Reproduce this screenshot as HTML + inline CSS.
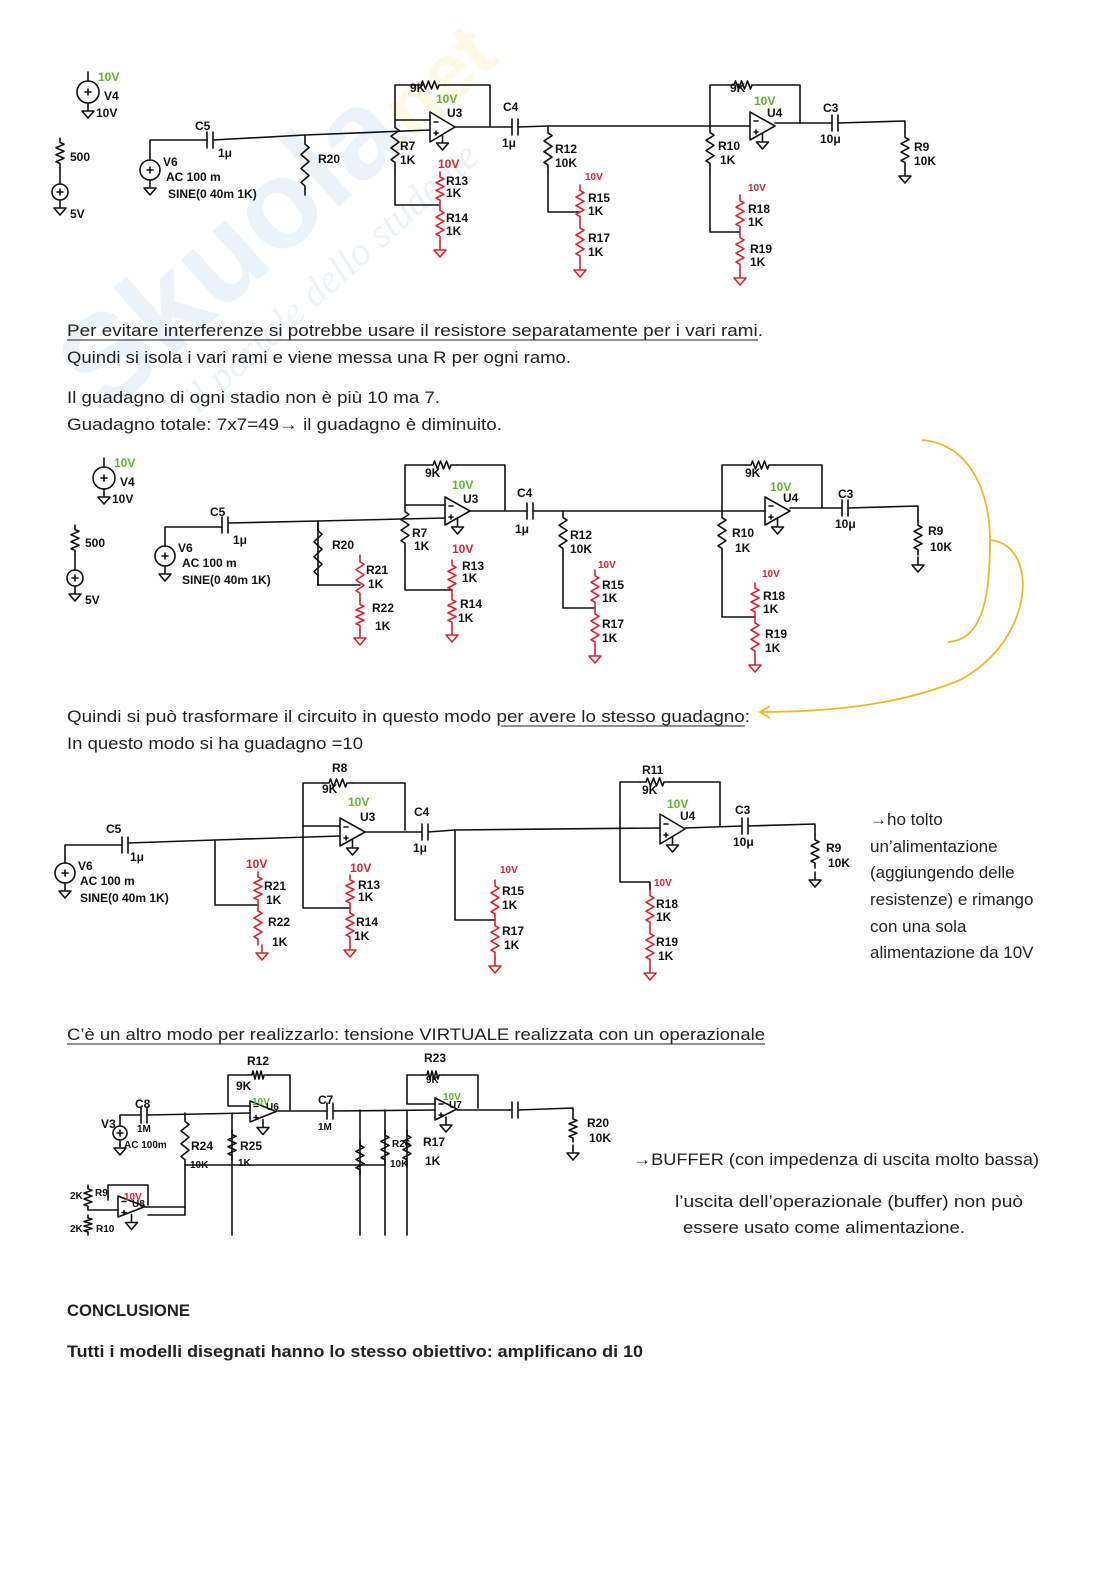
<!DOCTYPE html>
<html><head><meta charset="utf-8"><style>
html,body{margin:0;padding:0;background:#fff}
svg{display:block}
.t{font-family:"Liberation Sans",sans-serif;font-size:17px;fill:#222}
.b{font-weight:bold}
.h{font-family:"Liberation Sans",sans-serif;font-size:12px;fill:#111;font-weight:bold}
.hs{font-family:"Liberation Sans",sans-serif;font-size:10px;fill:#111;font-weight:bold}
.g{fill:#5db82a}.r{fill:#e0202a}
</style></head><body>
<svg id="s" width="1116" height="1579" viewBox="0 0 1116 1579" xmlns="http://www.w3.org/2000/svg">
<g opacity="0.12" transform="rotate(-42 220 260)">
<text x="30" y="300" font-family="Liberation Sans" font-weight="bold" font-size="125" fill="#5aa0d8">Skuola</text>
<text x="420" y="300" font-family="Liberation Sans" font-weight="bold" font-size="80" fill="#e8d830">.net</text>
<text x="100" y="360" font-family="Liberation Serif" font-style="italic" font-size="40" fill="#5aa0d8">il portale dello studente</text>
</g>
<g id="w" fill="none" stroke="#111" stroke-width="1.6" stroke-linecap="round" stroke-linejoin="round"></g>
<g id="rd" fill="none" stroke="#e0202a" stroke-width="1.6" stroke-linecap="round" stroke-linejoin="round"></g>
<path d="M922 440 C975 445 990 500 990 540 C990 590 985 640 948 642 M990 540 C1040 545 1035 640 960 680 C900 705 830 712 760 712 M770 706 L760 712 L770 718" fill="none" stroke="#f0b820" stroke-width="1.8"/>
<text class="h g" x="98" y="81">10V</text><text class="h" x="104" y="100" font-size="15">V4</text><text class="h" x="96" y="117">10V</text>
<text class="h" x="70" y="161" font-size="14">500</text><text class="h" x="70" y="218" font-size="14">5V</text>
<text class="h" x="163" y="166">V6</text><text class="h" x="166" y="181">AC 100 m</text><text class="h" x="168" y="198">SINE(0 40m 1K)</text>
<text class="h" x="195" y="130" font-size="15">C5</text><text class="h" x="218" y="157">1μ</text>
<text class="h" x="318" y="163" font-size="14">R20</text>
<text class="h" x="410" y="92">9K</text><text class="h g" x="436" y="103">10V</text><text class="h" x="447" y="117">U3</text>
<text class="h" x="400" y="150">R7</text><text class="h" x="400" y="164">1K</text>
<text class="h r" x="438" y="168" font-size="13">10V</text>
<text class="h" x="446" y="185">R13</text><text class="h" x="446" y="197">1K</text><text class="h" x="446" y="222">R14</text><text class="h" x="446" y="235">1K</text>
<text class="h" x="503" y="111" font-size="14">C4</text><text class="h" x="502" y="147">1μ</text>
<text class="h" x="555" y="153">R12</text><text class="h" x="555" y="167">10K</text>
<text class="hs r" x="585" y="180">10V</text>
<text class="h" x="588" y="202">R15</text><text class="h" x="588" y="215">1K</text><text class="h" x="588" y="242">R17</text><text class="h" x="588" y="256">1K</text>
<text class="h" x="730" y="92">9K</text><text class="h g" x="754" y="105">10V</text><text class="h" x="767" y="117">U4</text>
<text class="h" x="718" y="150">R10</text><text class="h" x="720" y="164">1K</text>
<text class="hs r" x="748" y="191">10V</text>
<text class="h" x="748" y="213">R18</text><text class="h" x="748" y="226">1K</text><text class="h" x="750" y="253">R19</text><text class="h" x="750" y="266">1K</text>
<text class="h" x="823" y="112" font-size="14">C3</text><text class="h" x="820" y="143">10μ</text>
<text class="h" x="914" y="151" font-size="14">R9</text><text class="h" x="914" y="165" font-size="14">10K</text>
<text class="t" x="67" y="336" textLength="696" lengthAdjust="spacingAndGlyphs">Per evitare interferenze si potrebbe usare il resistore separatamente per i vari rami.</text>
<line x1="67" y1="340" x2="758" y2="340" stroke="#222" stroke-width="1"/>
<text class="t" x="67" y="363" textLength="504" lengthAdjust="spacingAndGlyphs">Quindi si isola i vari rami e viene messa una R per ogni ramo.</text>
<text class="t" x="67" y="403" textLength="373" lengthAdjust="spacingAndGlyphs">Il guadagno di ogni stadio non è più 10 ma 7.</text>
<text class="t" x="67" y="430" textLength="435" lengthAdjust="spacingAndGlyphs">Guadagno totale: 7x7=49→ il guadagno è diminuito.</text>
<text class="h g" x="114" y="467">10V</text><text class="h" x="120" y="486" font-size="15">V4</text><text class="h" x="112" y="503">10V</text>
<text class="h" x="85" y="547" font-size="14">500</text><text class="h" x="85" y="604" font-size="14">5V</text>
<text class="h" x="178" y="552">V6</text><text class="h" x="182" y="567">AC 100 m</text><text class="h" x="182" y="584">SINE(0 40m 1K)</text>
<text class="h" x="210" y="516" font-size="15">C5</text><text class="h" x="233" y="544">1μ</text>
<text class="h" x="332" y="549" font-size="14">R20</text>
<text class="h" x="366" y="574">R21</text><text class="h" x="368" y="588">1K</text><text class="h" x="372" y="612">R22</text><text class="h" x="375" y="630">1K</text>
<text class="h" x="425" y="477">9K</text><text class="h g" x="452" y="489">10V</text><text class="h" x="463" y="503">U3</text>
<text class="h" x="412" y="537">R7</text><text class="h" x="414" y="550">1K</text>
<text class="h r" x="452" y="553" font-size="13">10V</text>
<text class="h" x="462" y="570">R13</text><text class="h" x="462" y="582">1K</text><text class="h" x="460" y="608">R14</text><text class="h" x="458" y="622">1K</text>
<text class="h" x="517" y="497" font-size="14">C4</text><text class="h" x="515" y="533">1μ</text>
<text class="h" x="570" y="539">R12</text><text class="h" x="570" y="553">10K</text>
<text class="hs r" x="598" y="568">10V</text>
<text class="h" x="602" y="589">R15</text><text class="h" x="602" y="602">1K</text><text class="h" x="602" y="628">R17</text><text class="h" x="602" y="642">1K</text>
<text class="h" x="745" y="477">9K</text><text class="h g" x="770" y="491">10V</text><text class="h" x="783" y="502">U4</text>
<text class="h" x="732" y="537">R10</text><text class="h" x="735" y="552">1K</text>
<text class="hs r" x="762" y="577">10V</text>
<text class="h" x="763" y="600">R18</text><text class="h" x="763" y="613">1K</text><text class="h" x="765" y="638">R19</text><text class="h" x="765" y="652">1K</text>
<text class="h" x="838" y="498" font-size="14">C3</text><text class="h" x="835" y="528">10μ</text>
<text class="h" x="928" y="535" font-size="14">R9</text><text class="h" x="930" y="551" font-size="14">10K</text>
<text class="t" x="67" y="722" textLength="683" lengthAdjust="spacingAndGlyphs">Quindi si può trasformare il circuito in questo modo per avere lo stesso guadagno:</text>
<line x1="501" y1="726" x2="745" y2="726" stroke="#222" stroke-width="1"/>
<text class="t" x="67" y="749" textLength="296" lengthAdjust="spacingAndGlyphs">In questo modo si ha guadagno =10</text>
<text class="h" x="78" y="870">V6</text><text class="h" x="80" y="885">AC 100 m</text><text class="h" x="80" y="902">SINE(0 40m 1K)</text>
<text class="h" x="106" y="833" font-size="15">C5</text><text class="h" x="130" y="861">1μ</text>
<text class="h" x="332" y="772">R8</text><text class="h" x="322" y="793">9K</text><text class="h g" x="348" y="806">10V</text><text class="h" x="360" y="821">U3</text>
<text class="h r" x="246" y="868" font-size="13">10V</text>
<text class="h" x="264" y="890">R21</text><text class="h" x="266" y="904">1K</text><text class="h" x="268" y="926">R22</text><text class="h" x="272" y="946">1K</text>
<text class="h r" x="350" y="872" font-size="13">10V</text>
<text class="h" x="358" y="889">R13</text><text class="h" x="358" y="901">1K</text><text class="h" x="356" y="926">R14</text><text class="h" x="354" y="940">1K</text>
<text class="h" x="414" y="816" font-size="14">C4</text><text class="h" x="413" y="852">1μ</text>
<text class="hs r" x="500" y="873">10V</text>
<text class="h" x="502" y="895">R15</text><text class="h" x="502" y="909">1K</text><text class="h" x="502" y="935">R17</text><text class="h" x="504" y="949">1K</text>
<text class="h" x="642" y="774">R11</text><text class="h" x="642" y="794">9K</text><text class="h g" x="667" y="808">10V</text><text class="h" x="680" y="820">U4</text>
<text class="hs r" x="654" y="886">10V</text>
<text class="h" x="656" y="908">R18</text><text class="h" x="656" y="921">1K</text><text class="h" x="656" y="946">R19</text><text class="h" x="658" y="960">1K</text>
<text class="h" x="735" y="814" font-size="14">C3</text><text class="h" x="733" y="846">10μ</text>
<text class="h" x="826" y="852" font-size="14">R9</text><text class="h" x="828" y="867" font-size="14">10K</text>
<text class="t" x="870" y="825">→ho tolto</text>
<text class="t" x="870" y="852">un’alimentazione</text>
<text class="t" x="870" y="878">(aggiungendo delle</text>
<text class="t" x="870" y="905">resistenze) e rimango</text>
<text class="t" x="870" y="932">con una sola</text>
<text class="t" x="870" y="958">alimentazione da 10V</text>
<text class="t" x="67" y="1040" textLength="698" lengthAdjust="spacingAndGlyphs">C’è un altro modo per realizzarlo: tensione VIRTUALE realizzata con un operazionale</text>
<line x1="67" y1="1044" x2="765" y2="1044" stroke="#222" stroke-width="1"/>
<text class="h" x="247" y="1065">R12</text><text class="h" x="236" y="1090" font-size="10">9K</text><text class="hs g" x="252" y="1105">10V</text><text class="hs" x="266" y="1110">U6</text>
<text class="h" x="135" y="1108">C8</text><text class="hs" x="137" y="1132">1M</text><text class="h" x="101" y="1128">V3</text><text class="hs" x="124" y="1148">AC 100m</text>
<text class="h" x="191" y="1150">R24</text><text class="hs" x="190" y="1168">10K</text><text class="h" x="240" y="1150">R25</text><text class="hs" x="238" y="1166">1K</text>
<text class="h" x="318" y="1104">C7</text><text class="hs" x="318" y="1130">1M</text>
<text class="h" x="424" y="1062">R23</text><text class="hs" x="426" y="1083">9K</text><text class="hs g" x="443" y="1100">10V</text><text class="hs" x="449" y="1108">U7</text>
<text class="hs" x="392" y="1147">R26</text><text class="h" x="423" y="1146">R17</text><text class="hs" x="390" y="1167">10K</text><text class="h" x="425" y="1165">1K</text>
<text class="h" x="587" y="1127">R20</text><text class="h" x="589" y="1142">10K</text>
<text class="hs" x="70" y="1199">2K</text><text class="hs" x="95" y="1196">R9</text><text class="hs r" x="124" y="1200">10V</text><text class="hs" x="132" y="1207">U8</text>
<text class="hs" x="70" y="1232">2K</text><text class="hs" x="96" y="1232">R10</text>
<text class="t" x="633" y="1165" textLength="406" lengthAdjust="spacingAndGlyphs">→BUFFER (con impedenza di uscita molto bassa)</text>
<text class="t" x="675" y="1207" textLength="348" lengthAdjust="spacingAndGlyphs">l’uscita dell’operazionale (buffer) non può</text>
<text class="t" x="683" y="1233" textLength="282" lengthAdjust="spacingAndGlyphs">essere usato come alimentazione.</text>
<text class="t b" x="67" y="1316" textLength="123" lengthAdjust="spacingAndGlyphs">CONCLUSIONE</text>
<text class="t b" x="67" y="1357" textLength="576" lengthAdjust="spacingAndGlyphs">Tutti i modelli disegnati hanno lo stesso obiettivo: amplificano di 10</text>
</svg>
<script>
var W=document.getElementById('w'),R=document.getElementById('rd'),NS='http://www.w3.org/2000/svg';
function P(d,g){var p=document.createElementNS(NS,'path');p.setAttribute('d',d);(g||W).appendChild(p);}
function L(pts,g){P('M'+pts.join(' L'),g);}
function rv(x,y1,y2,g){var n=6,h=(y2-y1),d='M'+x+' '+y1+' L'+x+' '+(y1+h*0.15);for(var i=0;i<n;i++){d+=' L'+(x+(i%2?-4:4))+' '+(y1+h*0.15+h*0.7*(i+0.5)/n);}d+=' L'+x+' '+(y1+h*0.85)+' L'+x+' '+y2;P(d,g);}
function rh(x1,x2,y){var w=x2-x1,d='M'+x1+' '+y+' L'+(x1+w*0.2)+' '+y;for(var i=0;i<6;i++){d+=' L'+(x1+w*0.2+w*0.6*(i+0.5)/6)+' '+(y+(i%2?4:-4));}d+=' L'+(x1+w*0.8)+' '+y+' L'+x2+' '+y;P(d);}
function gnd(x,y,g){P('M'+x+' '+y+' L'+x+' '+(y+8)+' M'+(x-6)+' '+(y+8)+' L'+(x+6)+' '+(y+8)+' L'+x+' '+(y+15)+' Z',g);}
function cap(x,y){P('M'+(x-3)+' '+(y-8)+' L'+(x-3)+' '+(y+8)+' M'+(x+3)+' '+(y-8)+' L'+(x+3)+' '+(y+8));}
function src(x,y,r){P('M'+(x+r)+' '+y+' A'+r+' '+r+' 0 1 0 '+(x-r)+' '+y+' A'+r+' '+r+' 0 1 0 '+(x+r)+' '+y+' M'+(x-3)+' '+y+' L'+(x+3)+' '+y+' M'+x+' '+(y-3)+' L'+x+' '+(y+3));}
function op(x,yt,yb,tx){var m=(yt+yb)/2;P('M'+x+' '+yt+' L'+x+' '+yb+' L'+tx+' '+m+' Z');P('M'+(x+4)+' '+(m-5)+' L'+(x+8)+' '+(m-5)+' M'+(x+4)+' '+(m+6)+' L'+(x+8)+' '+(m+6)+' M'+(x+6)+' '+(m+4)+' L'+(x+6)+' '+(m+8));gnd(x+(tx-x)*0.5,m+8);}
src(88,92,11);L([[88,81],[88,72]]);gnd(88,103);
rv(60,138,168);src(60,192,8);L([[60,168],[60,184]]);gnd(60,200);
src(150,170,10);L([[150,160],[150,140],[207,140]]);gnd(150,180);cap(210,140);L([[213,140],[305,135],[430,130]]);
rv(305,135,195);
op(430,112,142,455);
L([[430,120],[395,120],[395,85],[415,85]]);rh(415,445,85);L([[445,85],[490,85],[490,126]]);
rv(395,120,170);L([[395,170],[395,205],[440,205]]);
rv(440,172,205,R);rv(440,205,242,R);gnd(440,242,R);
L([[455,127],[512,127]]);cap(515,127);L([[518,127],[548,126],[710,126],[750,126]]);
rv(548,126,172);L([[548,172],[548,212],[580,212]]);
rv(580,185,222,R);rv(580,222,262,R);gnd(580,262,R);
op(750,112,140,775);
L([[710,126],[710,85],[728,85]]);rh(728,758,85);L([[758,85],[800,85],[800,123]]);
rv(710,126,170);L([[710,170],[710,232],[740,232]]);
rv(740,195,232,R);rv(740,232,270,R);gnd(740,270,R);
L([[775,123],[832,123]]);cap(835,123);L([[838,123],[905,121],[905,132]]);rv(905,132,168);gnd(905,168);
src(104,478,11);L([[104,467],[104,458]]);gnd(104,489);
rv(75,525,555);src(75,578,8);L([[75,555],[75,570]]);gnd(75,586);
src(165,556,10);L([[165,546],[165,527],[222,527]]);gnd(165,566);cap(225,525);L([[228,523],[318,521],[445,518]]);
rv(318,521,585);L([[318,585],[360,585]]);rv(360,555,600,R);rv(360,600,630,R);gnd(360,630,R);L([[318,521],[318,585]]);
op(445,497,525,470);
L([[445,505],[405,505],[405,465],[427,465]]);rh(427,457,465);L([[457,465],[505,465],[505,510]]);
rv(405,505,550);L([[405,550],[405,590],[452,590]]);
rv(452,560,595,R);rv(452,595,627,R);gnd(452,627,R);
L([[470,511],[527,511]]);cap(530,511);L([[533,511],[563,511],[765,511]]);
rv(563,511,555);L([[563,555],[563,608],[595,608]]);
rv(595,570,608,R);rv(595,608,648,R);gnd(595,648,R);
op(765,497,525,790);
L([[722,511],[722,465],[745,465]]);rh(745,775,465);L([[775,465],[822,465],[822,508]]);
rv(722,511,555);L([[722,555],[722,617],[755,617]]);
rv(755,583,617,R);rv(755,617,657,R);gnd(755,657,R);
L([[790,508],[842,508]]);cap(845,508);L([[848,508],[918,506],[918,520]]);rv(918,520,555);gnd(918,557);
src(65,873,10);L([[65,863],[65,845],[122,845]]);gnd(65,883);cap(125,845);L([[128,843],[215,840],[340,836]]);
L([[215,840],[215,905],[258,905]]);rv(258,872,905,R);rv(258,905,945,R);gnd(262,945,R);
op(340,818,846,365);
L([[340,826],[303,826],[303,783],[323,783]]);rh(323,353,783);L([[353,783],[405,783],[405,830]]);
L([[303,826],[303,908],[350,908]]);rv(350,875,908,R);rv(350,908,942,R);gnd(350,942,R);
L([[365,832],[422,832]]);cap(425,832);L([[428,832],[455,830],[660,828]]);
L([[455,830],[455,920],[495,920]]);rv(495,880,920,R);rv(495,920,958,R);gnd(495,958,R);
op(660,814,844,685);
L([[620,822],[620,782],[640,782]]);rh(640,670,782);L([[670,782],[720,782],[720,826]]);
L([[620,822],[620,882],[650,882],[650,890]]);rv(650,890,928,R);rv(650,928,965,R);gnd(650,965,R);
L([[685,828],[742,826]]);cap(745,826);L([[748,826],[815,824],[815,835]]);rv(815,835,868);gnd(815,872);
src(120,1133,7);L([[120,1126],[120,1115],[141,1115]]);gnd(120,1140);cap(144,1115);L([[147,1115],[250,1113]]);
rv(185,1113,1168);L([[185,1168],[185,1215],[148,1215]]);
L([[232,1113],[232,1235]]);rv(232,1130,1160);
op(250,1101,1122,276);
L([[250,1106],[228,1106],[228,1075],[248,1075]]);rh(248,268,1075);L([[268,1075],[290,1075],[290,1110]]);
L([[276,1111],[327,1111]]);cap(330,1111);L([[333,1111],[435,1110]]);
L([[360,1110],[360,1235]]);rv(360,1140,1175);
L([[385,1110],[385,1235]]);rv(385,1130,1165);
L([[385,1165],[185,1165]]);
L([[407,1110],[407,1235]]);rv(407,1130,1165);
op(435,1098,1120,457);
L([[435,1104],[407,1104],[407,1075],[423,1075]]);rh(423,443,1075);L([[443,1075],[478,1075],[478,1108]]);
L([[457,1110],[512,1110]]);cap(515,1110);L([[518,1110],[573,1108],[573,1115]]);rv(573,1115,1142);gnd(573,1145);
rv(88,1185,1210);rv(88,1215,1235);L([[88,1210],[118,1210]]);
op(118,1196,1217,145);L([[108,1200],[108,1185],[148,1185],[148,1205]]);L([[145,1207],[185,1207]]);
</script>
</body></html>
